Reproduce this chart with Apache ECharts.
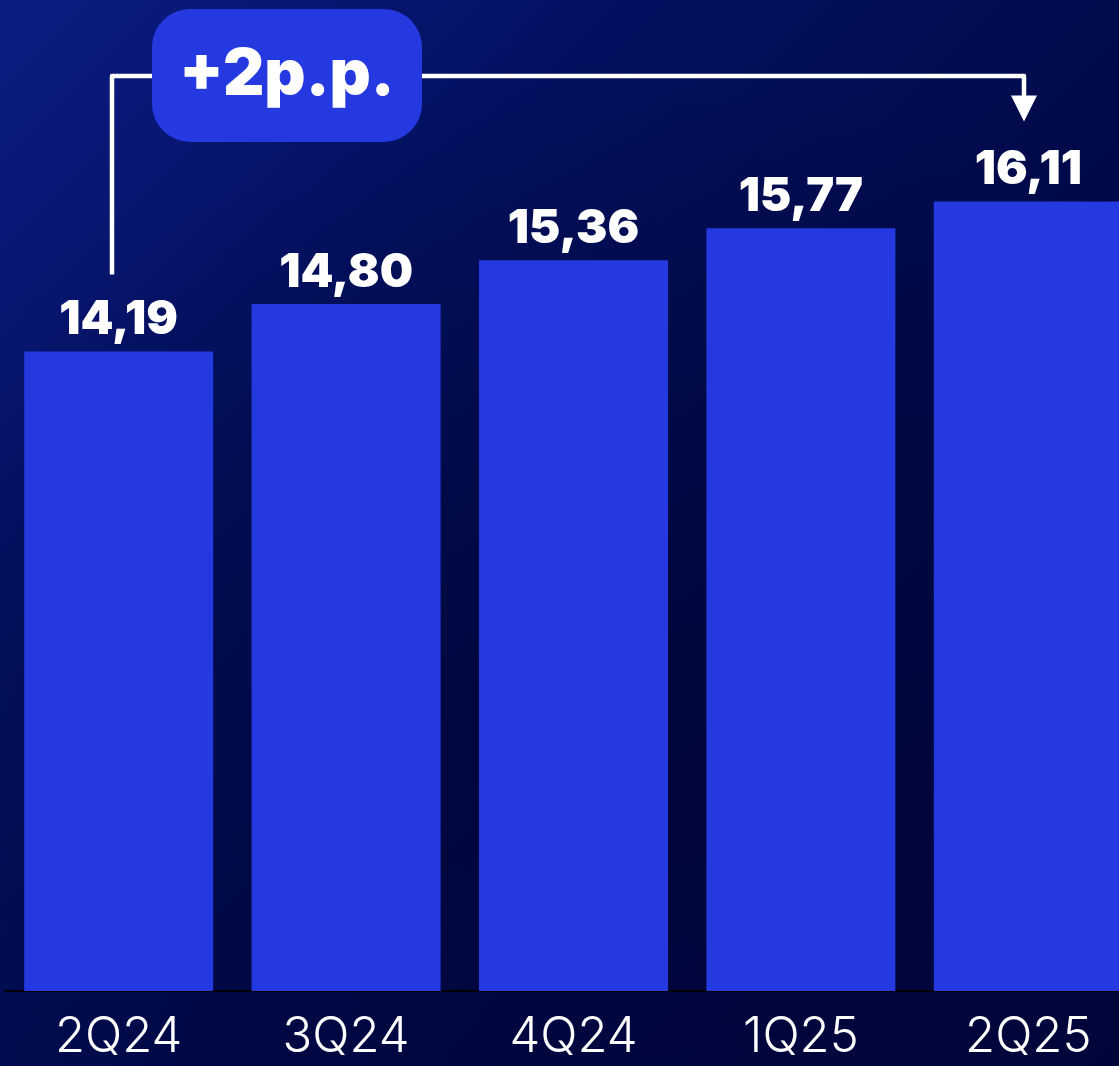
<!DOCTYPE html>
<html>
<head>
<meta charset="utf-8">
<script src="https://cdn.jsdelivr.net/npm/echarts@6/dist/echarts.min.js"></script>
<style>
  html, body { margin: 0; padding: 0; }
  body {
    width: 1119px; height: 1066px; overflow: hidden;
    background:
      radial-gradient(ellipse 70% 60% at 55% 65%, rgba(0,4,50,0.55), rgba(0,4,50,0) 100%),
      linear-gradient(135deg, #0c1c82 0%, #03105f 30%, #000947 60%, #00053a 100%);
  }
  /* the last column runs past the right edge of the page */
  #chart { width: 1142px; height: 1066px; }
</style>
</head>
<body>
<div id="chart"></div>
<script>
// Quarterly values
const quarters = ['2Q24', '3Q24', '4Q24', '1Q25', '2Q25'];
const values = [14.19, 14.80, 15.36, 15.77, 16.11];
const changeLabel = '+2p.p.';

const barColor = '#2439df';
const chart = echarts.init(document.getElementById('chart'), null, { renderer: 'canvas' });

const fmt = v => v.toFixed(2).replace('.', ',');

chart.setOption({
  backgroundColor: 'transparent',
  animation: false,
  grid: { left: 5, right: 0, top: 15, bottom: 75 },
  xAxis: {
    type: 'category',
    data: quarters,
    axisLine: { show: true, lineStyle: { color: '#000000', width: 2 } },
    axisTick: { show: false },
    axisLabel: {
      color: '#ffffff',
      fontFamily: 'Inter',
      fontWeight: 300,
      fontSize: 49,
      margin: 22
    }
  },
  yAxis: {
    type: 'value',
    min: 6,
    max: 18.5,
    show: false,
    splitLine: { show: false }
  },
  series: [{
    type: 'bar',
    data: values,
    barWidth: 189,
    itemStyle: { color: barColor },
    label: {
      show: true,
      position: 'top',
      distance: 8,
      color: '#ffffff',
      fontFamily: 'Inter',
      fontWeight: 900,
      fontSize: 47,
      formatter: p => fmt(p.value)
    }
  }]
});

// Bracket annotation from the first to the last quarter
function drawBracket() {
  const first = chart.convertToPixel({ seriesIndex: 0 }, [0, values[0]]);
  const last = chart.convertToPixel({ seriesIndex: 0 }, [quarters.length - 1, values[values.length - 1]]);
  const lx = Math.round(first[0]) - 7;
  const rx = Math.round(last[0]) - 4;
  const topY = 76;
  const lBottom = first[1] - 77;
  const tipY = last[1] - 80;
  const lineStyle = { stroke: '#ffffff', lineWidth: 4.5, fill: null, lineJoin: 'round' };

  chart.setOption({
    graphic: [
      {
        type: 'polyline',
        shape: { points: [[lx, lBottom], [lx, topY], [rx, topY], [rx, tipY - 22]] },
        style: lineStyle
      },
      {
        type: 'polygon',
        shape: { points: [[rx - 13, tipY - 26], [rx + 13, tipY - 26], [rx, tipY]] },
        style: { fill: '#ffffff' }
      },
      {
        type: 'rect',
        shape: { x: 152, y: 9, width: 270, height: 133, r: 38 },
        style: { fill: barColor }
      },
      {
        type: 'text',
        x: 287,
        y: 76,
        style: {
          text: changeLabel,
          fill: '#ffffff',
          font: '900 64px Inter',
          textAlign: 'center',
          textVerticalAlign: 'middle'
        }
      }
    ]
  });
}
drawBracket();
</script>
</body>
</html>
